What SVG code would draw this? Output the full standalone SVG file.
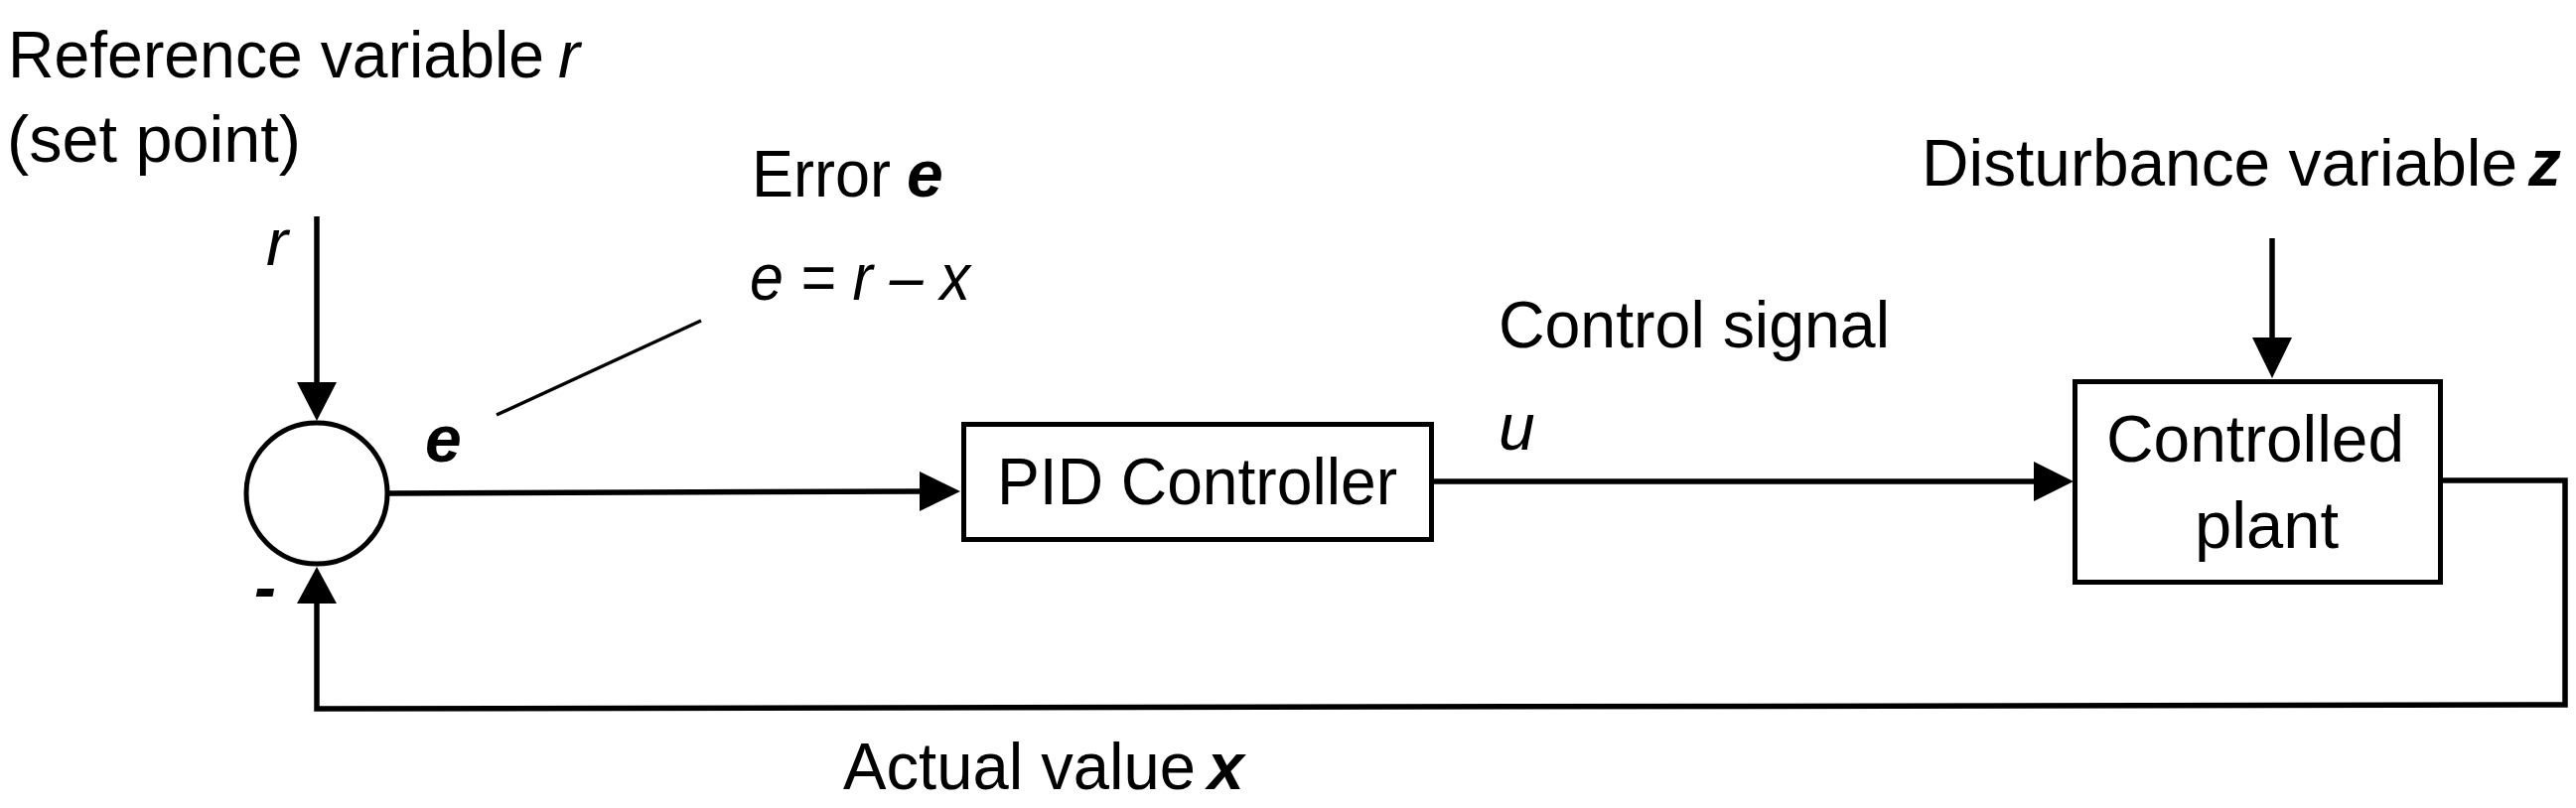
<svg xmlns="http://www.w3.org/2000/svg" width="2594" height="814" viewBox="0 0 2594 814">
<style>
  text { font-family: "Liberation Sans", Arial, sans-serif; font-size: 66px; fill: #000; }
  .i { font-style: italic; }
  .bi { font-style: italic; font-weight: bold; }
  .box { fill: #fff; stroke: #000; stroke-width: 5; }
  .wire { fill: none; stroke: #000; stroke-width: 5.5; stroke-linejoin: miter; }
  .thin { fill: none; stroke: #000; stroke-width: 3.5; }
  .head { fill: #000; stroke: none; }
</style>
<rect width="2594" height="814" fill="#fff"/>

<g id="connectors">
  <line class="wire" x1="319" y1="218" x2="319" y2="388"/>
  <polygon class="head" points="299,385 339,385 319,424"/>
  <line class="thin" x1="500" y1="418" x2="706" y2="323"/>
  <line class="wire" x1="392" y1="497" x2="928" y2="495"/>
  <polygon class="head" points="926,475 926,515 967,495"/>
  <line class="wire" x1="1444" y1="485" x2="2050" y2="485"/>
  <polygon class="head" points="2048,465 2048,505 2088,485"/>
  <line class="wire" x1="2288" y1="240" x2="2288" y2="343"/>
  <polygon class="head" points="2268,340 2308,340 2288,381"/>
  <polyline class="wire" points="2460,484 2583,484 2583,710 319,714 319,605"/>
  <polygon class="head" points="299,608 339,608 319,571"/>
</g>

<g id="sum">
  <circle cx="319" cy="497" r="71" class="box"/>
  <text x="428" y="465" class="bi">e</text>
  <text x="256" y="614" class="bi">-</text>
</g>

<g id="pid">
  <rect class="box" x="970.5" y="427.5" width="471" height="116"/>
  <text x="1004" y="508" textLength="403" lengthAdjust="spacingAndGlyphs">PID Controller</text>
</g>

<g id="plant">
  <rect class="box" x="2089.5" y="384.5" width="368" height="202"/>
  <text x="2121" y="465" textLength="300" lengthAdjust="spacingAndGlyphs">Controlled</text>
  <text x="2210" y="552" textLength="145" lengthAdjust="spacingAndGlyphs">plant</text>
</g>

<g id="reference">
  <text x="8" y="78" textLength="540" lengthAdjust="spacingAndGlyphs">Reference variable</text>
  <text x="562" y="78" class="i">r</text>
  <text x="7" y="163" textLength="296" lengthAdjust="spacingAndGlyphs">(set point)</text>
  <text x="268" y="267" class="i">r</text>
</g>

<g id="error">
  <text x="757" y="198" textLength="140" lengthAdjust="spacingAndGlyphs">Error</text>
  <text x="913" y="198" class="bi">e</text>
  <text x="755" y="302" class="i" textLength="222" lengthAdjust="spacingAndGlyphs">e = r – x</text>
</g>

<g id="control-signal">
  <text x="1509" y="350" textLength="394" lengthAdjust="spacingAndGlyphs">Control signal</text>
  <text x="1509" y="453" class="i">u</text>
</g>

<g id="disturbance">
  <text x="1935" y="187" textLength="600" lengthAdjust="spacingAndGlyphs">Disturbance variable</text>
  <text x="2546" y="187" class="bi">z</text>
</g>

<g id="actual">
  <text x="849" y="795" textLength="355" lengthAdjust="spacingAndGlyphs">Actual value</text>
  <text x="1216" y="795" class="bi">x</text>
</g>
</svg>
